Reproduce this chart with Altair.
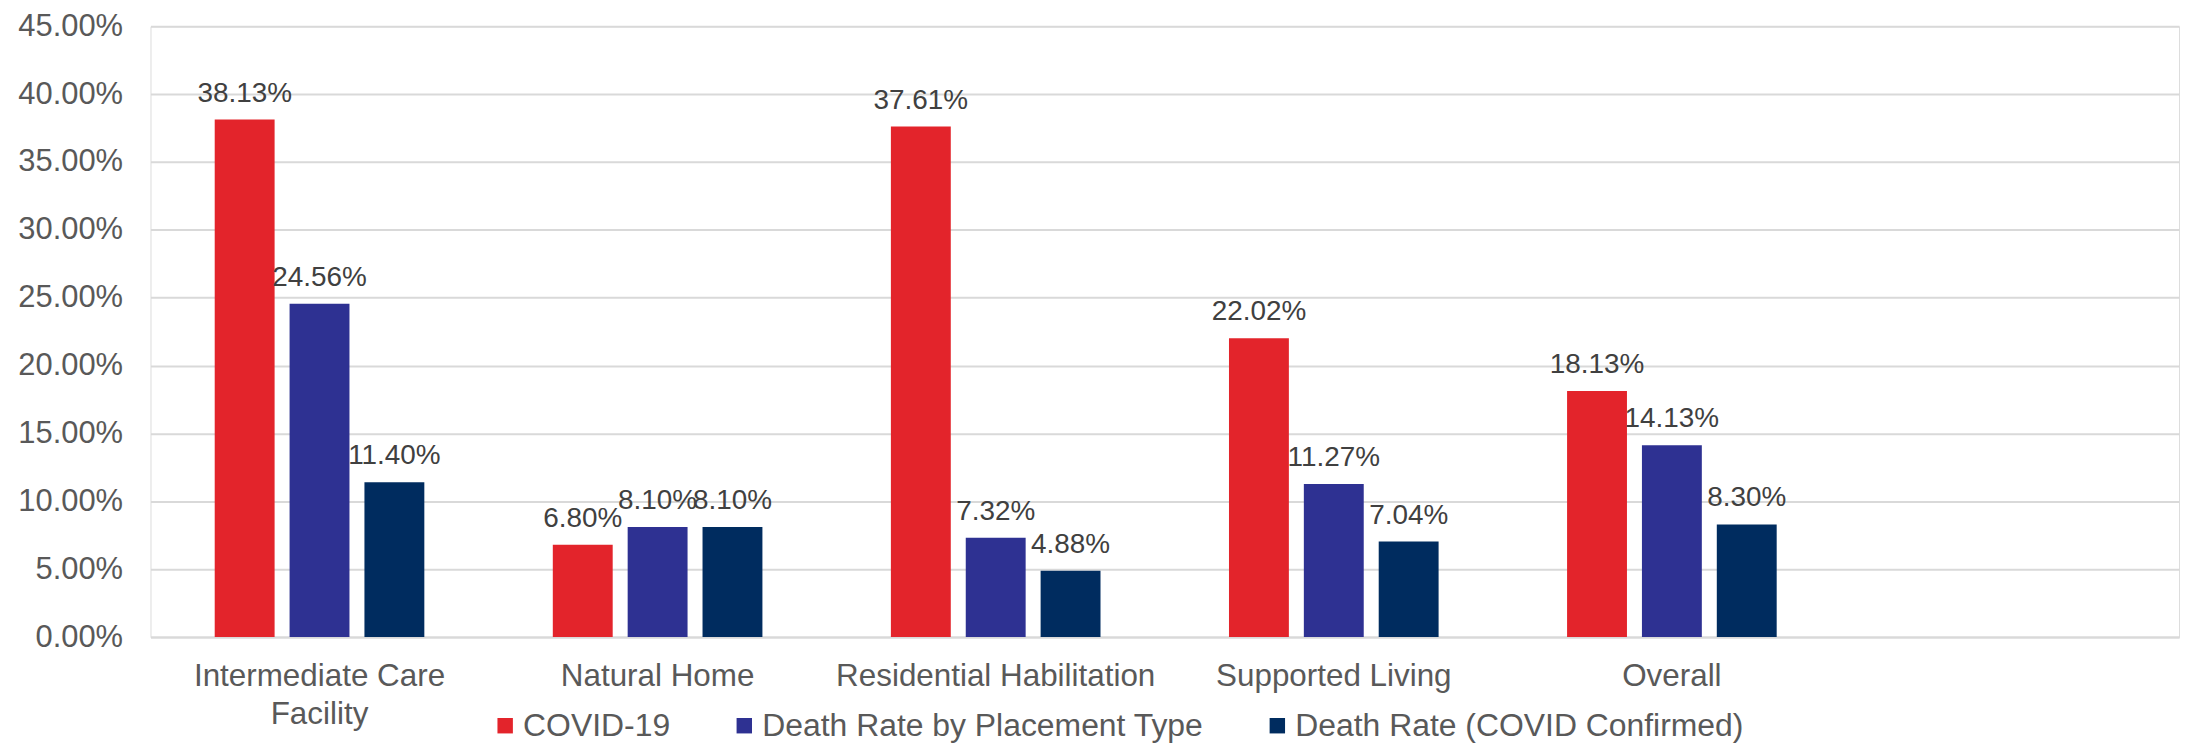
import altair as alt
import pandas as pd

categories = ["Intermediate Care Facility", "Natural Home", "Residential Habilitation",
              "Supported Living", "Overall"]
series = ["COVID-19", "Death Rate by Placement Type", "Death Rate (COVID Confirmed)"]
covid19 = [0.3813, 0.0680, 0.3761, 0.2202, 0.1813]
placement = [0.2456, 0.0810, 0.0732, 0.1127, 0.1413]
confirmed = [0.1140, 0.0810, 0.0488, 0.0704, 0.0830]
colors = ["#E3242B", "#2E3192", "#002C5F"]
y_ticks = [0.0, 0.05, 0.10, 0.15, 0.20, 0.25, 0.30, 0.35, 0.40, 0.45]
x_domain = categories + [" "]

rows = []
for name, vals in zip(series, [covid19, placement, confirmed]):
    for cat, v in zip(categories, vals):
        rows.append({"Category": cat, "Series": name, "Value": v})
df = pd.DataFrame(rows)

FONT = "Liberation Sans"

x_enc = alt.X(
    "Category:N",
    scale=alt.Scale(domain=x_domain, paddingInner=0.38, paddingOuter=0.19),
    axis=alt.Axis(
        title=None, labelAngle=0, ticks=False, domain=True, domainColor="#d9d9d9",
        domainWidth=2, labelPadding=24, labelFontSize=31.5, labelColor="#595959",
        labelLineHeight=38, labelFont=FONT, grid=False, labelLimit=500,
        labelExpr="datum.value == 'Intermediate Care Facility' ? ['Intermediate Care', 'Facility'] : datum.label",
    ),
)
xo_enc = alt.XOffset("Series:N", scale=alt.Scale(domain=series, paddingInner=0.2, paddingOuter=0))
y_enc = alt.Y(
    "Value:Q",
    scale=alt.Scale(domain=[0, 0.45], nice=False),
    axis=alt.Axis(
        title=None, values=y_ticks, format=".2%", grid=True, gridColor="#d9d9d9",
        gridWidth=2, domain=False, ticks=False, labelPadding=28, labelFontSize=31,
        labelColor="#595959", labelFont=FONT,
    ),
)

bars = alt.Chart(df).mark_bar().encode(
    x=x_enc,
    xOffset=xo_enc,
    y=y_enc,
    color=alt.Color(
        "Series:N",
        scale=alt.Scale(domain=series, range=colors),
        legend=alt.Legend(
            title=None, orient="none", legendX=340, legendY=686, direction="horizontal",
            symbolType="square", symbolSize=240, symbolStrokeWidth=0, labelFontSize=32,
            labelColor="#595959", labelFont=FONT, columnPadding=58, labelOffset=2,
            labelLimit=700,
        ),
    ),
)

labels = alt.Chart(df).mark_text(
    baseline="alphabetic", dy=-18, fontSize=28, color="#404040", font=FONT
).encode(
    x=x_enc,
    xOffset=xo_enc,
    y=y_enc,
    text=alt.Text("Value:Q", format=".2%"),
)

chart = alt.layer(bars, labels).properties(
    width=2036,
    height=613,
    autosize=alt.AutoSizeParams(type="none"),
    padding={"left": 143, "top": 17, "right": 4, "bottom": 105},
).configure_view(stroke=None).configure(font=FONT)

chart.save("out.html", embed_options={"renderer": "svg", "actions": False})
